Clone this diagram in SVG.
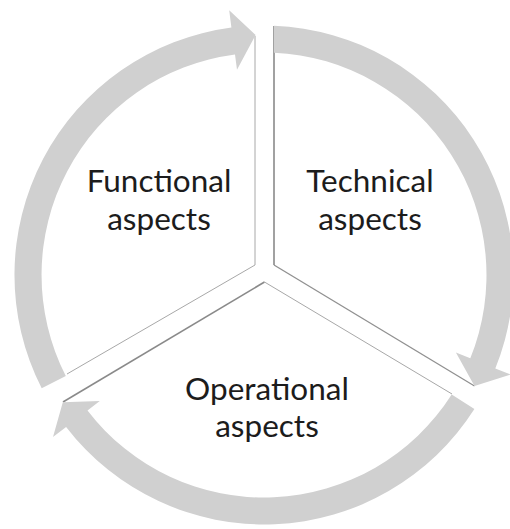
<svg xmlns="http://www.w3.org/2000/svg" width="510" height="529" viewBox="0 0 510 529">
  <style>
    .sector { fill: #ffffff; stroke: none; }
    .edge-light { fill: none; stroke: #a8a8a8; stroke-width: 1; }
    .edge-dark { fill: none; stroke: #8a8a8a; stroke-width: 1.6; }
    .arrow { fill: #d0d0d0; stroke: none; }
    .label { font-family: Lato, "Open Sans", "Liberation Sans", sans-serif; font-size: 31.5px; fill: #1c1c1c; text-anchor: middle; }
  </style>
  <rect x="0" y="0" width="510" height="529" fill="#ffffff"/>

  <g id="functional">
    <path class="sector" d="M255,265 L255,36 A236 236 0 0 0 67,374 Z"/>
    <path class="edge-light" d="M255,36 L255,265 L67,374"/>
    <text class="label" x="159" y="192">Functional</text>
    <text class="label" x="159" y="230">aspects</text>
  </g>

  <g id="technical">
    <path class="sector" d="M274,26 L274,265 L474.5,386 A236 236 0 0 0 274,26 Z"/>
    <path class="edge-dark" d="M274,26 L274,265"/>
    <path class="edge-dark" d="M274,265 L474.5,386" style="stroke:#909090;stroke-width:1.3"/>
    <text class="label" x="370" y="192">Technical</text>
    <text class="label" x="370" y="230">aspects</text>
  </g>

  <g id="operational">
    <path class="sector" d="M264.5,282 L452,394 A236 236 0 0 1 63,402 Z"/>
    <path class="edge-dark" d="M63,402 L264.5,282"/>
    <path class="edge-light" d="M264.5,282 L452,394"/>
    <text class="label" x="267" y="400">Operational</text>
    <text class="label" x="267" y="437">aspects</text>
  </g>

  <g id="connectors">
    <path class="arrow" d="M274,25.7 A249.5 249.5 0 0 1 495.3,368.5 L510.6,374.6 L474.5,386 L455.9,352.5 L470.3,358.3 A222.5 222.5 0 0 0 274,52.7 Z"/>
    <path class="arrow" d="M474.4,409.1 A249.5 249.5 0 0 1 66.1,426.9 L53,436.9 L62.8,402.2 L99.8,401 L87.5,410.5 A222.5 222.5 0 0 0 451.7,394.5 Z"/>
    <path class="arrow" d="M41.7,388.3 A249.5 249.5 0 0 1 231.4,27.6 L229.2,10.3 L255.6,35 L237,69.8 L235,54.4 A222.5 222.5 0 0 0 65.8,376 Z"/>
  </g>
</svg>
